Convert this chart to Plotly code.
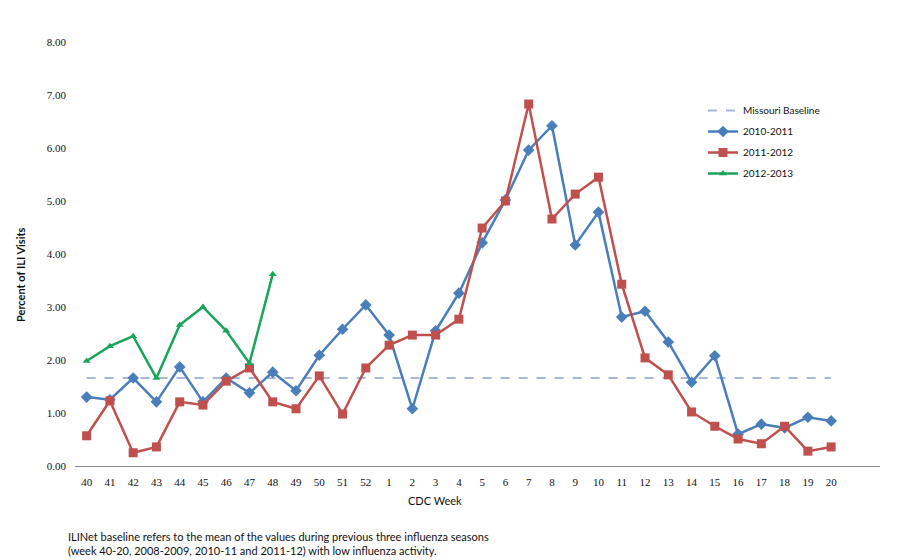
import plotly.graph_objects as go

# CDC weeks, season order (40..52, then 1..20)
weeks = [str(w) for w in range(40, 53)] + [str(w) for w in range(1, 21)]

season_2010_11 = [1.30, 1.25, 1.66, 1.21, 1.87, 1.21, 1.66, 1.38, 1.77, 1.42,
                  2.09, 2.58, 3.04, 2.47, 1.08, 2.55, 3.26, 4.21, 5.02, 5.96,
                  6.42, 4.17, 4.79, 2.81, 2.92, 2.34, 1.58, 2.08, 0.60, 0.79,
                  0.72, 0.92, 0.85]
season_2011_12 = [0.57, 1.23, 0.25, 0.36, 1.21, 1.15, 1.60, 1.85, 1.21, 1.08,
                  1.70, 0.98, 1.85, 2.28, 2.47, 2.47, 2.77, 4.49, 5.00, 6.83,
                  4.66, 5.13, 5.45, 3.43, 2.04, 1.72, 1.02, 0.75, 0.51, 0.42,
                  0.75, 0.28, 0.36]
season_2012_13 = [1.98, 2.26, 2.45, 1.66, 2.66, 3.00, 2.55, 1.94, 3.62]
missouri_baseline = 1.66

y_ticks = [0, 1, 2, 3, 4, 5, 6, 7, 8]

BLUE = "#4A7EBB"
RED = "#C0504D"
GREEN = "#1AA55A"
BASE = "#A9B8DA"
TICK_FONT = dict(family="Liberation Serif, Times New Roman, serif", size=11, color="#111111")
SANS = "Lato, Open Sans, sans-serif"

# plot area in figure pixels (page body adds 8px offset)
L, R, T, B = 67, 26, 34, 102
PH = 560 - T - B
PW = 898 - L - R

fig = go.Figure()

fig.add_trace(go.Scatter(
    x=weeks, y=[missouri_baseline] * len(weeks),
    mode="lines", name="Missouri Baseline", legendgroup="a",
    line=dict(color=BASE, width=2, dash="dash"),
))
fig.add_trace(go.Scatter(
    x=weeks, y=season_2010_11, mode="lines+markers", name="2010-2011",
    legendgroup="b",
    line=dict(color=BLUE, width=2.5),
    marker=dict(symbol="diamond", size=9, color=BLUE),
))
fig.add_trace(go.Scatter(
    x=weeks, y=season_2011_12, mode="lines+markers", name="2011-2012",
    legendgroup="c",
    line=dict(color=RED, width=2.5),
    marker=dict(symbol="square", size=9, color=RED),
))
fig.add_trace(go.Scatter(
    x=weeks[:len(season_2012_13)], y=season_2012_13, mode="lines+markers",
    name="2012-2013", legendgroup="d",
    line=dict(color=GREEN, width=2.5),
    marker=dict(symbol="triangle-up", size=7, color=GREEN),
))

fig.update_layout(
    width=898, height=560,
    paper_bgcolor="white", plot_bgcolor="white",
    margin=dict(l=L, r=R, t=T, b=B),
    showlegend=True,
    legend=dict(
        x=(695 - L) / PW, y=(458 - 88) / PH, xanchor="left", yanchor="top",
        font=dict(family=SANS, size=10, color="#111111"),
        bgcolor="rgba(0,0,0,0)", tracegroupgap=2, itemwidth=30,
    ),
    xaxis=dict(
        type="category", range=[-0.5, 34.1],
        showgrid=False, showline=True, linecolor="#888888", linewidth=1,
        ticks="", tickfont=TICK_FONT, zeroline=False, ticklabelstandoff=6,
    ),
    yaxis=dict(
        range=[0, 8], tickvals=y_ticks,
        ticktext=[f"{v:.2f}" for v in y_ticks],
        showgrid=False, showline=False, zeroline=False,
        ticks="", tickfont=TICK_FONT, ticklabelstandoff=8,
    ),
    annotations=[
        dict(text="<b>Percent of ILI Visits</b>",
             x=(12 - L) / PW, y=(458 - 267) / PH, xref="paper", yref="paper",
             xanchor="center", yanchor="middle",
             showarrow=False, textangle=-90,
             font=dict(family=SANS, size=11, color="#111111")),
        dict(text="CDC Week", x=(427 - L) / PW, y=-34 / PH, xref="paper", yref="paper",
             xanchor="center", yanchor="middle", showarrow=False,
             font=dict(family=SANS, size=11, color="#111111")),
        dict(text="ILINet baseline refers to the mean of the values during previous three influenza seasons<br>"
                  "(week 40-20, 2008-2009, 2010-11 and 2011-12) with low influenza activity.",
             x=(58 - L) / PW, y=-62 / PH, xref="paper", yref="paper",
             xanchor="left", yanchor="top", align="left", showarrow=False,
             font=dict(family=SANS, size=11, color="#111111")),
    ],
)

fig.write_html("out.html")
